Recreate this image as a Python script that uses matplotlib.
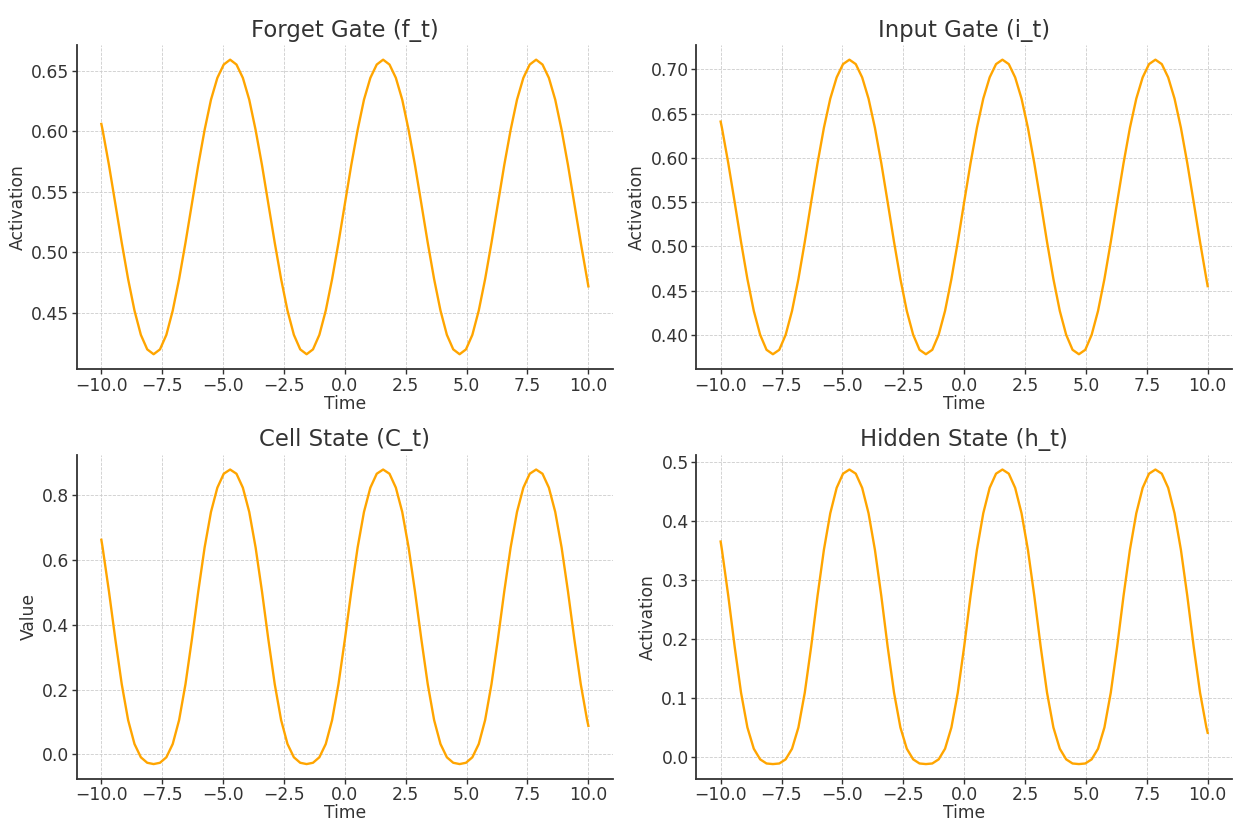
"""LSTM gate / state activations over time, 2x2 grid."""

import matplotlib
matplotlib.use("Agg")
import matplotlib.pyplot as plt

# time samples
time = [
    -10.0, -9.948, -9.687, -9.425, -9.163, -8.901, -8.639, -8.378, -8.116,
    -7.854, -7.592, -7.330, -7.069, -6.807, -6.545, -6.283, -6.021, -5.760,
    -5.498, -5.236, -4.974, -4.712, -4.451, -4.189, -3.927, -3.665, -3.403,
    -3.142, -2.880, -2.618, -2.356, -2.094, -1.833, -1.571, -1.309, -1.047,
    -0.785, -0.524, -0.262, 0.0, 0.262, 0.524, 0.785, 1.047, 1.309, 1.571,
    1.833, 2.094, 2.356, 2.618, 2.880, 3.142, 3.403, 3.665, 3.927, 4.189,
    4.451, 4.712, 4.974, 5.236, 5.498, 5.760, 6.021, 6.283, 6.545, 6.807,
    7.069, 7.330, 7.592, 7.854, 8.116, 8.378, 8.639, 8.901, 9.163, 9.425,
    9.687, 9.948, 10.0,
]

forget_gate = [
    0.606,
    0.601, 0.572, 0.540, 0.508, 0.478, 0.452, 0.432, 0.420, 0.416, 0.420,
    0.432, 0.452, 0.478, 0.508,
    0.540, 0.572, 0.601, 0.626, 0.644, 0.655, 0.659, 0.655, 0.644, 0.626,
    0.601, 0.572, 0.540, 0.508, 0.478, 0.452, 0.432, 0.420, 0.416, 0.420,
    0.432, 0.452, 0.478, 0.508,
    0.540, 0.572, 0.601, 0.626, 0.644, 0.655, 0.659, 0.655, 0.644, 0.626,
    0.601, 0.572, 0.540, 0.508, 0.478, 0.452, 0.432, 0.420, 0.416, 0.420,
    0.432, 0.452, 0.478, 0.508,
    0.540, 0.572, 0.601, 0.626, 0.644, 0.655, 0.659, 0.655, 0.644, 0.626,
    0.601, 0.572, 0.540, 0.508, 0.478,
    0.472,
]

input_gate = [
    0.641,
    0.634, 0.594, 0.550, 0.505, 0.463, 0.427, 0.400, 0.383, 0.378, 0.383,
    0.400, 0.427, 0.463, 0.505,
    0.550, 0.594, 0.634, 0.667, 0.691, 0.706, 0.711, 0.706, 0.691, 0.667,
    0.634, 0.594, 0.550, 0.505, 0.463, 0.427, 0.400, 0.383, 0.378, 0.383,
    0.400, 0.427, 0.463, 0.505,
    0.550, 0.594, 0.634, 0.667, 0.691, 0.706, 0.711, 0.706, 0.691, 0.667,
    0.634, 0.594, 0.550, 0.505, 0.463, 0.427, 0.400, 0.383, 0.378, 0.383,
    0.400, 0.427, 0.463, 0.505,
    0.550, 0.594, 0.634, 0.667, 0.691, 0.706, 0.711, 0.706, 0.691, 0.667,
    0.634, 0.594, 0.550, 0.505, 0.463,
    0.455,
]

cell_state = [
    0.663,
    0.639, 0.503, 0.355, 0.217, 0.106, 0.032, -0.009, -0.026, -0.030, -0.026,
    -0.009, 0.032, 0.106, 0.217,
    0.355, 0.503, 0.639, 0.749, 0.824, 0.867, 0.880, 0.867, 0.824, 0.749,
    0.639, 0.503, 0.355, 0.217, 0.106, 0.032, -0.009, -0.026, -0.030, -0.026,
    -0.009, 0.032, 0.106, 0.217,
    0.355, 0.503, 0.639, 0.749, 0.824, 0.867, 0.880, 0.867, 0.824, 0.749,
    0.639, 0.503, 0.355, 0.217, 0.106, 0.032, -0.009, -0.026, -0.030, -0.026,
    -0.009, 0.032, 0.106, 0.217,
    0.355, 0.503, 0.639, 0.749, 0.824, 0.867, 0.880, 0.867, 0.824, 0.749,
    0.639, 0.503, 0.355, 0.217, 0.106,
    0.088,
]

hidden_state = [
    0.365,
    0.351, 0.273, 0.187, 0.109, 0.050, 0.014, -0.004, -0.011, -0.012, -0.011,
    -0.004, 0.014, 0.050, 0.109,
    0.187, 0.273, 0.351, 0.413, 0.456, 0.480, 0.487, 0.480, 0.456, 0.413,
    0.351, 0.273, 0.187, 0.109, 0.050, 0.014, -0.004, -0.011, -0.012, -0.011,
    -0.004, 0.014, 0.050, 0.109,
    0.187, 0.273, 0.351, 0.413, 0.456, 0.480, 0.487, 0.480, 0.456, 0.413,
    0.351, 0.273, 0.187, 0.109, 0.050, 0.014, -0.004, -0.011, -0.012, -0.011,
    -0.004, 0.014, 0.050, 0.109,
    0.187, 0.273, 0.351, 0.413, 0.456, 0.480, 0.487, 0.480, 0.456, 0.413,
    0.351, 0.273, 0.187, 0.109, 0.050,
    0.041,
]

titles = ["Forget Gate (f_t)", "Input Gate (i_t)", "Cell State (C_t)", "Hidden State (h_t)"]
ylabels = ["Activation", "Activation", "Value", "Activation"]
series = [forget_gate, input_gate, cell_state, hidden_state]

TEXT = "#333333"
plt.rcParams["font.family"] = "DejaVu Sans"
plt.rcParams["text.color"] = TEXT
plt.rcParams["axes.labelcolor"] = TEXT
plt.rcParams["xtick.color"] = TEXT
plt.rcParams["ytick.color"] = TEXT

fig, axes = plt.subplots(2, 2, figsize=(12.34, 8.25), dpi=100)
fig.subplots_adjust(left=0.0624, right=0.9984, bottom=0.056, top=0.9455,
                    wspace=0.156, hspace=0.265)

for ax, values, title, ylabel in zip(axes.flat, series, titles, ylabels):
    ax.plot(time, values, color="orange", linewidth=1.7)
    ax.set_title(title, fontsize=16.4, color=TEXT)
    ax.set_xlabel("Time", fontsize=12.3, labelpad=0)
    ax.set_ylabel(ylabel, fontsize=12.3, labelpad=3)
    ax.tick_params(labelsize=12.3, length=3.5, width=1, pad=2)
    ax.grid(True, linestyle="--", linewidth=0.6, color="#cccccc")
    for side in ["top", "right"]:
        ax.spines[side].set_visible(False)
    for side in ["left", "bottom"]:
        ax.spines[side].set_color(TEXT)
        ax.spines[side].set_linewidth(1.3)

fig.savefig("out.png", dpi=100)
plt.close(fig)
